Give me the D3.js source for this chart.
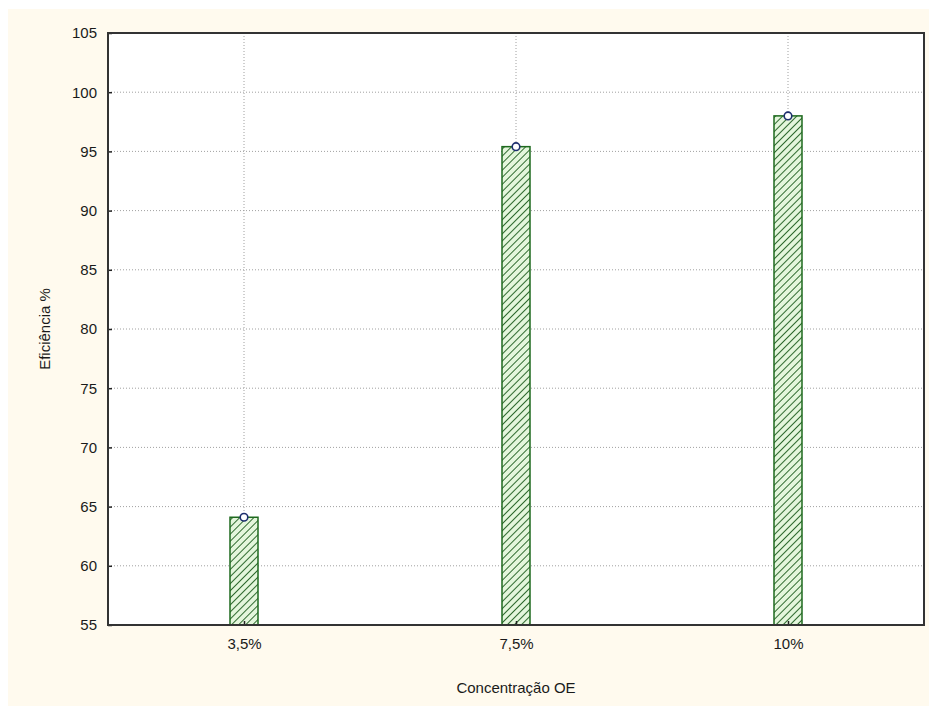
<!DOCTYPE html>
<html>
<head>
<meta charset="utf-8">
<script src="https://cdn.jsdelivr.net/npm/d3@7"></script>
<style>
  html, body { margin: 0; padding: 0; background: #ffffff; }
  svg { display: block; }
</style>
</head>
<body>
<svg id="chart" width="929" height="706"></svg>
<script>
// Efficiency by OE concentration
const categories = ["3,5%", "7,5%", "10%"];
const efficiency = [64.1, 95.4, 98.0];
const yTicks = [55, 60, 65, 70, 75, 80, 85, 90, 95, 100, 105];
const xTitle = "Concentração OE";
const yTitle = "Eficiência %";

const W = 929, H = 706;
const plot = { left: 108, top: 33, right: 924, bottom: 625 };
const font = "Arial, 'Liberation Sans', sans-serif";

const svg = d3.select("#chart");

// cream panel behind the chart
svg.append("rect")
  .attr("x", 8).attr("y", 9)
  .attr("width", W - 8).attr("height", H - 9)
  .attr("fill", "#fffaee");

const defs = svg.append("defs");
const hatch = defs.append("pattern")
  .attr("id", "hatch")
  .attr("patternUnits", "userSpaceOnUse")
  .attr("width", 5).attr("height", 5)
  .attr("patternTransform", "rotate(45)");
hatch.append("rect").attr("width", 5).attr("height", 5).attr("fill", "#e4f6dc");
hatch.append("line")
  .attr("x1", 0).attr("y1", 0).attr("x2", 0).attr("y2", 5)
  .attr("stroke", "#2f6a2f").attr("stroke-width", 2);

const x = d3.scalePoint()
  .domain(categories)
  .range([plot.left, plot.right])
  .padding(0.5);

const y = d3.scaleLinear()
  .domain([55, 105])
  .range([plot.bottom, plot.top]);

// plot area
svg.append("rect")
  .attr("x", plot.left).attr("y", plot.top)
  .attr("width", plot.right - plot.left)
  .attr("height", plot.bottom - plot.top)
  .attr("fill", "#ffffff");

// grid lines
const grid = svg.append("g");
grid.selectAll("line.h")
  .data(yTicks.filter(t => t > 55 && t < 105))
  .join("line")
  .attr("class", "h")
  .attr("x1", plot.left).attr("x2", plot.right)
  .attr("y1", d => y(d)).attr("y2", d => y(d))
  .attr("stroke", "#a0a0a0").attr("stroke-width", 1)
  .attr("stroke-dasharray", "1,2");
grid.selectAll("line.v")
  .data(categories)
  .join("line")
  .attr("class", "v")
  .attr("x1", d => x(d)).attr("x2", d => x(d))
  .attr("y1", plot.top).attr("y2", plot.bottom)
  .attr("stroke", "#a0a0a0").attr("stroke-width", 1)
  .attr("stroke-dasharray", "1,2");

// bars
const barW = 28;
svg.append("g").selectAll("rect")
  .data(categories)
  .join("rect")
  .attr("x", d => x(d) - barW / 2)
  .attr("y", (d, i) => y(efficiency[i]))
  .attr("width", barW)
  .attr("height", (d, i) => y(55) - y(efficiency[i]))
  .attr("fill", "url(#hatch)")
  .attr("stroke", "#1e6a1e")
  .attr("stroke-width", 1.5);

// value markers
svg.append("g").selectAll("circle")
  .data(categories)
  .join("circle")
  .attr("cx", d => x(d))
  .attr("cy", (d, i) => y(efficiency[i]))
  .attr("r", 3.8)
  .attr("fill", "#ffffff")
  .attr("stroke", "#1e2f6e")
  .attr("stroke-width", 1.6);

// axes
const yAxis = svg.append("g")
  .attr("transform", `translate(${plot.left},0)`)
  .call(d3.axisLeft(y).tickValues(yTicks).tickSize(-4).tickPadding(11));
const xAxis = svg.append("g")
  .attr("transform", `translate(0,${plot.bottom})`)
  .call(d3.axisBottom(x).tickSize(-4).tickPadding(13));
[yAxis, xAxis].forEach(g => {
  g.select(".domain").remove();
  g.selectAll(".tick line").attr("stroke", "#222").attr("stroke-width", 1.5);
  g.selectAll(".tick text")
    .attr("fill", "#1a1a1a")
    .style("font-family", font)
    .style("font-size", "15px");
});

// frame
svg.append("rect")
  .attr("x", plot.left).attr("y", plot.top)
  .attr("width", plot.right - plot.left)
  .attr("height", plot.bottom - plot.top)
  .attr("fill", "none")
  .attr("stroke", "#333")
  .attr("stroke-width", 2);

// titles
svg.append("text")
  .attr("x", (plot.left + plot.right) / 2)
  .attr("y", 693)
  .attr("text-anchor", "middle")
  .attr("fill", "#1a1a1a")
  .style("font-family", font)
  .style("font-size", "15px")
  .text(xTitle);
svg.append("text")
  .attr("transform", `translate(50,${(plot.top + plot.bottom) / 2}) rotate(-90)`)
  .attr("text-anchor", "middle")
  .attr("fill", "#1a1a1a")
  .style("font-family", font)
  .style("font-size", "15px")
  .text(yTitle);
</script>
</body>
</html>
